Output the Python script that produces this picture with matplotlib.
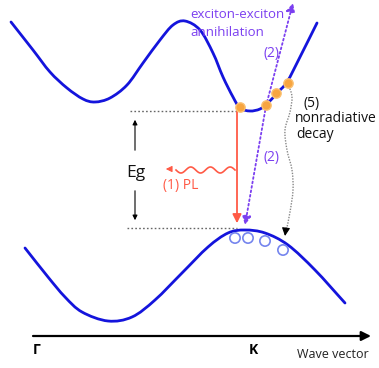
import numpy as np
import matplotlib.pyplot as plt
from matplotlib.path import Path
from matplotlib.patches import PathPatch

plt.rcParams['font.family'] = ['Open Sans', 'DejaVu Sans']

# Conduction band (upper), sampled along the wave-vector axis (screen units)
k_cb = [11, 33, 50, 67, 83, 95, 110, 127, 143, 160, 173, 185,
        200, 213, 223, 233, 240, 250, 260, 268, 277, 287, 300, 317]
e_cb = [22, 50, 72, 88, 99, 102, 98, 85, 63, 40, 25, 21,
        30, 53, 77, 97, 108, 111, 109, 103, 93, 82, 57, 23]

# Valence band (lower)
k_vb = [25, 48, 65, 82, 108, 132, 155, 182, 208, 228, 245, 265, 288, 315, 345]
e_vb = [248, 277, 297, 312, 321, 317, 300, 273, 247, 233, 230, 233, 245, 270, 303]

# Excitons (electrons in CB) and holes (in VB)
elec_k = [240, 266, 276, 288]
elec_e = [107, 105, 93, 83]
hole_k = [235, 248, 265, 283]
hole_e = [238, 238, 241, 250]

# Nonradiative decay path
nr_k = [289, 292, 290, 285, 287, 292, 293, 290, 286]
nr_e = [86, 97, 112, 130, 150, 170, 190, 212, 232]

BLUE = '#1414dc'
RED = '#ff5a46'
PURPLE = '#7b3ff0'
ORANGE = '#f7a540'
HOLE = '#7585ee'


def smooth_path(xs, ys):
    """Catmull-Rom curve through the given points, as cubic Bezier segments."""
    p = np.column_stack([xs, ys]).astype(float)
    ext = np.vstack([2 * p[0] - p[1], p, 2 * p[-1] - p[-2]])
    verts = [p[0]]
    codes = [Path.MOVETO]
    for i in range(1, len(ext) - 2):
        p0, p1, p2, p3 = ext[i - 1], ext[i], ext[i + 1], ext[i + 2]
        verts += [p1 + (p2 - p0) / 6, p2 - (p3 - p1) / 6, p2]
        codes += [Path.CURVE4] * 3
    return Path(verts, codes)


fig = plt.figure(figsize=(3.79, 3.68), dpi=100)
ax = fig.add_axes([0, 0, 1, 1])
ax.set_xlim(0, 379)
ax.set_ylim(368, 0)
ax.axis('off')

for kx, ey in ((k_cb, e_cb), (k_vb, e_vb)):
    ax.add_patch(PathPatch(smooth_path(kx, ey), facecolor='none', edgecolor=BLUE,
                           lw=2.0, capstyle='round', joinstyle='round'))

# band edges
ax.plot([130, 237], [111, 111], ls=(0, (1.2, 1.6)), color='#666666', lw=1.0)
ax.plot([127, 237], [228, 228], ls=(0, (1.2, 1.6)), color='#666666', lw=1.0)

# Eg double arrow
ax.annotate('', xy=(135, 117), xytext=(135, 153),
            arrowprops=dict(arrowstyle='-|>', color='black', lw=0.8, mutation_scale=7))
ax.annotate('', xy=(135, 223), xytext=(135, 188),
            arrowprops=dict(arrowstyle='-|>', color='black', lw=0.8, mutation_scale=7))
ax.text(136, 173, 'Eg', fontsize=12.5, ha='center', va='center', color='#111111')

# (1) radiative recombination
ax.annotate('', xy=(237, 226), xytext=(237, 107),
            arrowprops=dict(arrowstyle='-|>', color=RED, lw=1.3, mutation_scale=13))
wx = np.linspace(176, 235, 120)
ax.plot(wx, 170 + 3 * np.sin((wx - 235) / 59 * 3 * 2 * np.pi), color=RED, lw=1.2)
ax.annotate('', xy=(163, 169), xytext=(172, 169),
            arrowprops=dict(arrowstyle='-|>', color=RED, lw=0.8, mutation_scale=9))
ax.text(163, 186, '(1) PL', fontsize=10, color=RED, ha='left', va='center')

# (2) exciton-exciton annihilation
ax.annotate('', xy=(245, 225), xytext=(266, 106),
            arrowprops=dict(arrowstyle='-|>', color=PURPLE, lw=1.3, ls=(0, (1, 1.5)),
                            mutation_scale=13, shrinkA=0, shrinkB=0))
ax.annotate('', xy=(293, 3), xytext=(266, 106),
            arrowprops=dict(arrowstyle='-|>', color=PURPLE, lw=1.3, ls=(0, (1, 1.5)),
                            mutation_scale=13, shrinkA=0, shrinkB=0))
ax.text(190, 15, 'exciton-exciton', fontsize=9.5, color=PURPLE, ha='left', va='center')
ax.text(190, 33, 'annihilation', fontsize=9.5, color=PURPLE, ha='left', va='center')
ax.text(271, 53, '(2)', fontsize=10, color=PURPLE, ha='center', va='center')
ax.text(272, 158, '(2)', fontsize=10, color=PURPLE, ha='center', va='center')

# (5) nonradiative decay
ax.add_patch(PathPatch(smooth_path(nr_k, nr_e), facecolor='none', edgecolor='#888888',
                       lw=1.0, ls=(0, (1, 1))))
ax.annotate('', xy=(285, 236), xytext=(286, 228),
            arrowprops=dict(arrowstyle='-|>', color='black', lw=0.8, mutation_scale=12,
                            shrinkA=0, shrinkB=0))
ax.text(304, 103, '(5)', fontsize=10, ha='left', va='center', color='#111111')
ax.text(295, 119, 'nonradiative', fontsize=10, ha='left', va='center', color='#111111')
ax.text(296, 135, 'decay', fontsize=10, ha='left', va='center', color='#111111')

# carriers
ax.scatter(elec_k, elec_e, s=45, facecolor=ORANGE, edgecolor='#fbc070', lw=1.0, zorder=5)
ax.scatter(hole_k, hole_e, s=55, facecolor='none', edgecolor=HOLE, lw=1.2, zorder=5)

# wave-vector axis
ax.annotate('', xy=(371, 336), xytext=(33, 336),
            arrowprops=dict(arrowstyle='-|>', color='black', lw=1.6, mutation_scale=14,
                            shrinkA=0, shrinkB=0))
ax.text(37, 350, 'Γ', fontsize=10, fontweight='bold', ha='center', va='center')
ax.text(253, 350, 'K', fontsize=10, fontweight='bold', ha='center', va='center')
ax.text(333, 355, 'Wave vector', fontsize=9, ha='center', va='center', color='#222222')

fig.savefig('out.png', dpi=100)
